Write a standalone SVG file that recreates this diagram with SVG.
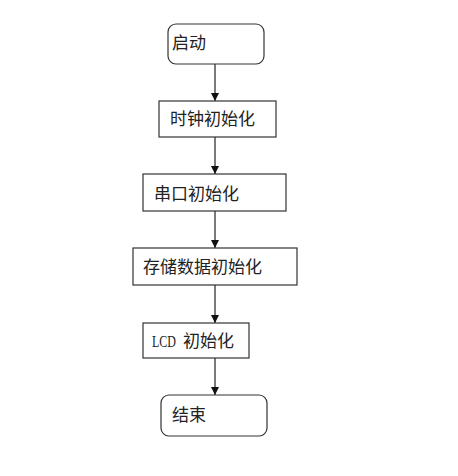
<svg xmlns="http://www.w3.org/2000/svg" width="458" height="476" viewBox="0 0 458 476">
<style>
.box{fill:#fff;stroke:#333;stroke-width:1.2}
.t{font-family:"Noto Sans CJK SC","Liberation Sans",sans-serif;font-size:17px;fill:#222}
.lat{font-family:"Liberation Serif",serif;font-size:17px}
.c{stroke:#222;stroke-width:1.2;fill:none}
</style>
<defs>
<marker id="ah" viewBox="0 0 10 10" refX="10" refY="5" markerWidth="8" markerHeight="8" markerUnits="userSpaceOnUse" orient="auto">
<path d="M0,0 L10,5 L0,10 z" fill="#111"/>
</marker>
</defs>
<rect width="458" height="476" fill="#fff"/>
<g id="connectors">
<line class="c" x1="215" y1="64" x2="215" y2="101" marker-end="url(#ah)"/>
<line class="c" x1="215" y1="137" x2="215" y2="174" marker-end="url(#ah)"/>
<line class="c" x1="215" y1="211" x2="215" y2="248" marker-end="url(#ah)"/>
<line class="c" x1="215" y1="285" x2="215" y2="323" marker-end="url(#ah)"/>
<line class="c" x1="215" y1="358" x2="215" y2="395" marker-end="url(#ah)"/>
</g>
<g id="start">
<rect class="box" x="168" y="24" width="96" height="40" rx="8"/>
<text class="t" x="172" y="49">启动</text>
</g>
<g id="clock">
<rect class="box" x="159" y="101" width="117" height="36"/>
<text class="t" x="170" y="125">时钟初始化</text>
</g>
<g id="serial">
<rect class="box" x="143" y="174" width="143" height="37"/>
<text class="t" x="154" y="200">串口初始化</text>
</g>
<g id="storage">
<rect class="box" x="133" y="248" width="164" height="37"/>
<text class="t" x="143" y="273">存储数据初始化</text>
</g>
<g id="lcd">
<rect class="box" x="143" y="323" width="106" height="35"/>
<text class="t" x="152" y="347"><tspan class="lat" textLength="24" lengthAdjust="spacingAndGlyphs">LCD</tspan><tspan x="183">初始化</tspan></text>
</g>
<g id="end">
<rect class="box" x="161" y="395" width="106" height="41" rx="8"/>
<text class="t" x="172" y="421">结束</text>
</g>
</svg>
